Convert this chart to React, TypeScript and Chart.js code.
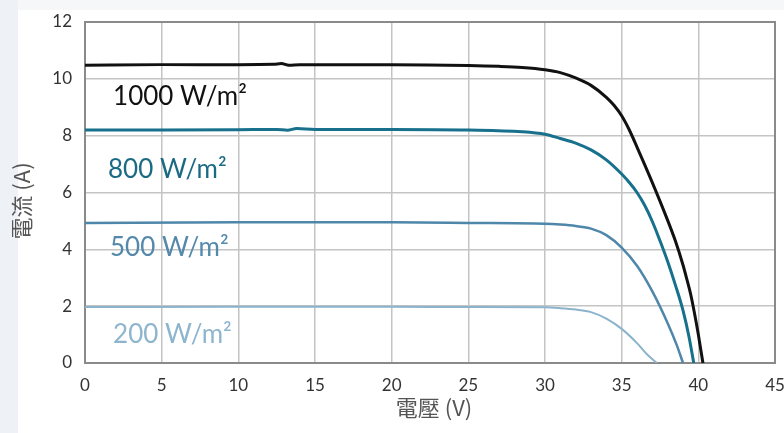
import { useEffect, useRef } from "react";
import { Chart, registerables } from "chart.js";

Chart.register(...registerables);

// Voltage (V) and current (A) readings for each irradiance level
const v1000 = [0, 5, 10, 12.3, 12.8, 13.3, 14, 20, 25, 27, 28.5, 30, 31, 32, 33, 34, 34.5, 35, 35.5, 36, 37, 38, 38.5, 39, 39.25, 39.5, 39.75, 40, 40.3];
const i1000 = [10.48, 10.5, 10.5, 10.51, 10.54, 10.48, 10.5, 10.5, 10.47, 10.44, 10.4, 10.32, 10.22, 10.03, 9.77, 9.35, 9.07, 8.7, 8.2, 7.6, 6.35, 5.02, 4.3, 3.45, 2.95, 2.42, 1.75, 1.0, 0];

const v800 = [0, 5, 10, 12.5, 13.2, 13.8, 15, 20, 25, 28.5, 30, 31, 32, 33, 34, 35, 35.5, 36, 36.5, 37, 37.5, 38, 38.5, 39, 39.4, 39.7];
const i800 = [8.2, 8.2, 8.21, 8.22, 8.19, 8.25, 8.22, 8.22, 8.2, 8.14, 8.05, 7.9, 7.74, 7.5, 7.15, 6.65, 6.35, 6.0, 5.55, 4.98, 4.3, 3.57, 2.75, 1.85, 0.9, 0];

const v500 = [0, 10, 20, 25, 30, 31, 32, 33, 34, 35, 36, 37, 38, 38.6, 39.0];
const i500 = [4.93, 4.95, 4.95, 4.93, 4.9, 4.87, 4.82, 4.73, 4.5, 4.06, 3.42, 2.52, 1.4, 0.62, 0];

const v200 = [0, 10, 20, 25, 30, 31, 32, 33, 34, 35, 36, 36.7, 37.3];
const i200 = [1.97, 1.98, 1.98, 1.97, 1.96, 1.93, 1.88, 1.79, 1.56, 1.2, 0.7, 0.28, 0];

const seriesLabels = ["1000 W/m²", "800 W/m²", "500 W/m²", "200 W/m²"];
// label anchors in data coordinates (V, A)
const labelV = [1.83, 1.5, 1.63, 1.83];
const labelI = [9.36, 6.79, 4.05, 0.99];

const xTitle = "電壓 (V)";
const yTitle = "電流 (A)";

const lineColors = ["#111111", "#17708c", "#4e87aa", "#8bb3cb"];
const textColors = ["#111111", "#1b6a84", "#5489ab", "#8db5cd"];
const lineWidths = [3, 3, 2.5, 2];

const toPoints = (xs: number[], ys: number[]) => xs.map((x, k) => ({ x, y: ys[k] }));

export default function App() {
  const ref = useRef<HTMLCanvasElement | null>(null);

  useEffect(() => {
    if (!ref.current) return;
    const sets = [
      toPoints(v1000, i1000),
      toPoints(v800, i800),
      toPoints(v500, i500),
      toPoints(v200, i200),
    ];

    const decor = {
      id: "decor",
      beforeDraw(chart: any) {
        const { ctx, width, height } = chart;
        ctx.save();
        ctx.fillStyle = "#ffffff";
        ctx.fillRect(0, 0, width, height);
        ctx.fillStyle = "#eef2f6";
        ctx.fillRect(0, 0, 18, height);
        ctx.fillStyle = "#f6f7f9";
        ctx.fillRect(18, 0, width - 18, 10);
        ctx.restore();
      },
      beforeDatasetsDraw(chart: any) {
        const { ctx, chartArea } = chart;
        ctx.save();
        ctx.strokeStyle = "#8a8a8a";
        ctx.lineWidth = 2;
        ctx.strokeRect(chartArea.left, chartArea.top, chartArea.right - chartArea.left, chartArea.bottom - chartArea.top);
        ctx.restore();
      },
      afterDraw(chart: any) {
        const { ctx, scales } = chart;
        ctx.save();
        ctx.textBaseline = "middle";
        ctx.textAlign = "left";
        ctx.font = "26px Lato";
        seriesLabels.forEach((t, k) => {
          ctx.fillStyle = textColors[k];
          ctx.fillText(t, scales.x.getPixelForValue(labelV[k]), scales.y.getPixelForValue(labelI[k]));
        });
        ctx.fillStyle = "#555555";
        ctx.font = "22px 'Noto Sans CJK TC', 'Noto Sans'";
        ctx.textAlign = "center";
        ctx.fillText(xTitle, 434, 408);
        ctx.translate(22, 201);
        ctx.rotate(-Math.PI / 2);
        ctx.fillText(yTitle, 0, 0);
        ctx.restore();
      },
    };

    const chart = new Chart(ref.current, {
      type: "scatter",
      data: {
        datasets: sets.map((d, k) => ({
          label: seriesLabels[k],
          data: d,
          showLine: true,
          borderColor: lineColors[k],
          backgroundColor: lineColors[k],
          borderWidth: lineWidths[k],
          pointRadius: 0,
          pointHoverRadius: 0,
          cubicInterpolationMode: "monotone" as const,
          fill: false,
        })),
      },
      options: {
        responsive: false,
        animation: false,
        layout: { padding: { top: 22, right: 9, left: 0, bottom: 0 } },
        plugins: { legend: { display: false }, tooltip: { enabled: false } },
        scales: {
          x: {
            type: "linear",
            min: 0,
            max: 45,
            ticks: { stepSize: 5, color: "#333333", font: { family: "Lato", size: 17 }, padding: 12 },
            grid: { color: "#c4c4c4", lineWidth: 1.5, drawTicks: false },
            border: { display: false },
            afterFit: (s: any) => { s.height = 70; s.paddingLeft = 0; s.paddingRight = 0; },
          },
          y: {
            type: "linear",
            min: 0,
            max: 12,
            ticks: { stepSize: 2, color: "#333333", font: { family: "Lato", size: 17 }, padding: 13 },
            grid: { color: "#c4c4c4", lineWidth: 1.5, drawTicks: false },
            border: { display: false },
            afterFit: (s: any) => { s.width = 85; s.paddingTop = 0; s.paddingBottom = 0; },
          },
        },
      },
      plugins: [decor],
    });
    return () => chart.destroy();
  }, []);

  return (
    <div style={{ position: "absolute", left: 0, top: 0, width: 784, height: 433 }}>
      <canvas ref={ref} width={784} height={433} />
    </div>
  );
}
